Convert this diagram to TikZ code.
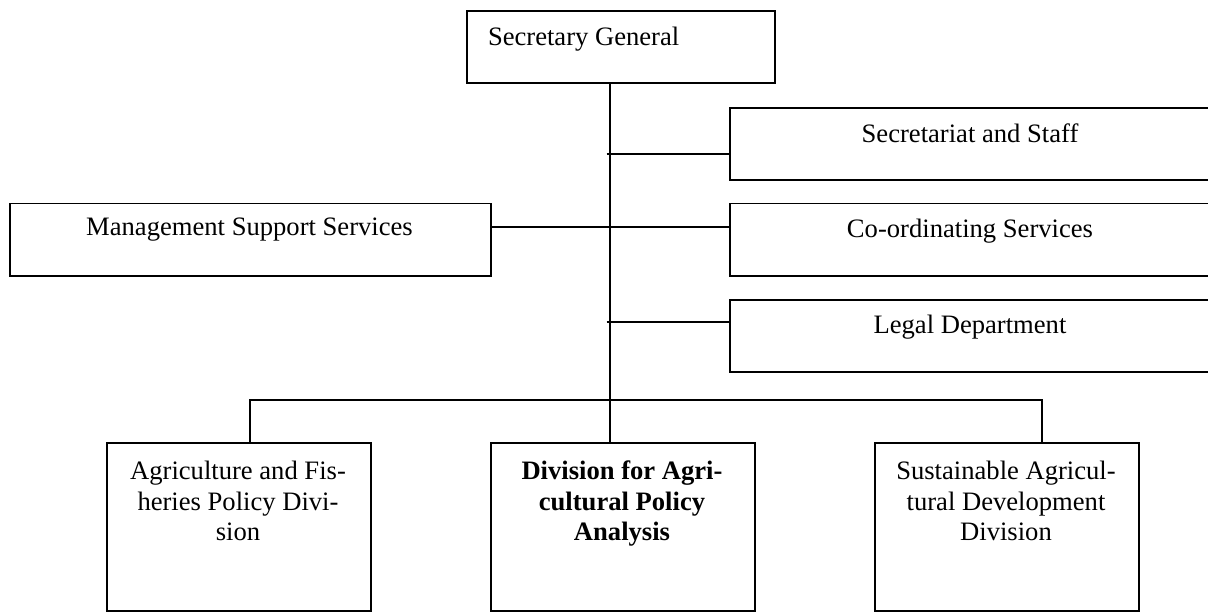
\documentclass[tikz,border=0pt]{standalone}
\usepackage{fontspec}
\setmainfont{Liberation Serif}

\begin{document}
\begin{tikzpicture}[x=0.4511pt, y=-0.4511pt,
    font=\fontsize{12pt}{13.8pt}\selectfont,
    line width=0.9pt,
    unit/.style={draw, line width=0.9pt, inner sep=0pt, anchor=north west},
    office/.style={unit, minimum width=217.4pt, minimum height=32.5pt},
    division/.style={unit, minimum width=119.1pt, minimum height=75.8pt},
    title/.style={inner sep=0pt, anchor=base},
    divtitle/.style={inner sep=0pt, align=center, anchor=north}]
  \useasboundingbox (0,0) rectangle (1208,612);
  % top box
  \node[unit, minimum width=138.9pt, minimum height=32.5pt] (sg) at (466,10) {};
  \node[title, anchor=base west] (sgtext) at (487,45) {Secretary General};
  % staff units
  \node[office] (staff) at (729,107) {};
  \node[title] (stafftext) at (970,142) {Secretariat and Staff};
  \node[office] (coord) at (729,202.5) {};
  \node[title] (coordtext) at (970,237) {Co-ordinating Services};
  \node[office] (legal) at (729,299) {};
  \node[title] (legaltext) at (970,333) {Legal Department};
  \node[office, minimum width=217pt] (mss) at (9,202.5) {};
  \node[title] (msstext) at (249.5,235) {Management Support Services};
  % divisions
  \node[division] (afp) at (105.7,442) {};
  \node[divtitle] (afptext) at (238,460) {Agriculture and Fis-\\heries Policy Divi-\\sion};
  \node[division] (dapa) at (490,442) {};
  \node[divtitle, font=\fontsize{12pt}{13.8pt}\selectfont\bfseries] (dapatext) at (622,460)
    {Division for Agri-\\cultural Policy\\Analysis};
  \node[division] (sad) at (874,442) {};
  \node[divtitle] (sadtext) at (1006,460) {Sustainable Agricul-\\tural Development\\Division};
  % trunk and junctions
  \coordinate (trunk) at (610,82);
  \coordinate (jstaff) at (606.5,154);
  \coordinate (jcoord) at (610,226.7);
  \coordinate (jlegal) at (606.5,322);
  \coordinate (busl) at (250,399.5);
  \coordinate (busr) at (1042,399.5);
  \draw (trunk) -- (trunk |- dapa.north);
  \draw (jstaff) -- (jstaff -| staff.west);
  \draw (jcoord -| mss.east) -- (jcoord -| coord.west);
  \draw (jlegal) -- (jlegal -| legal.west);
  \draw (busl |- afp.north) -- (busl) -- (busr) -- (busr |- sad.north);
\end{tikzpicture}
\end{document}
